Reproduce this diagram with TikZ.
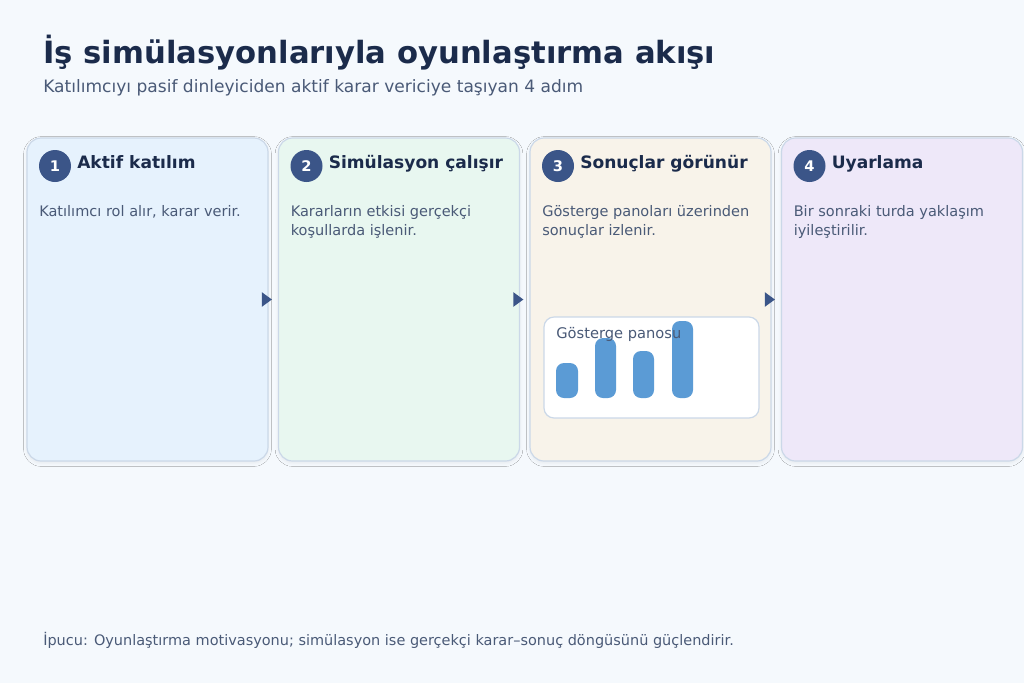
\documentclass[tikz,border=0pt]{standalone}
\usepackage{fontspec}
\setmainfont{DejaVu Sans}
\usetikzlibrary{arrows.meta,shadows.blur}
\definecolor{bgc}{HTML}{F5F9FD}
\definecolor{titlec}{HTML}{1B2B4B}
\definecolor{subc}{HTML}{4A5A77}
\definecolor{cardA}{HTML}{E6F2FD}
\definecolor{cardB}{HTML}{E8F7F0}
\definecolor{cardC}{HTML}{F8F3EA}
\definecolor{cardD}{HTML}{EEE8F9}
\definecolor{borderc}{HTML}{CBD8E8}
\definecolor{numc}{HTML}{3B5588}
\definecolor{barc}{HTML}{5B9BD5}
\tikzset{
  card/.style={draw=borderc, line width=0.9pt, rounded corners=10.5pt,
    minimum width=180.75pt, minimum height=242.25pt, inner sep=0pt,
    blur shadow={shadow xshift=0pt, shadow yshift=-1.5pt, shadow opacity=6, shadow blur radius=2.5pt}},
  numdot/.style={circle, fill=numc, text=white, minimum size=24pt, inner sep=0pt,
    font=\bfseries\fontsize{11}{13}\selectfont},
  cardtitle/.style={anchor=base west, inner sep=0pt, text=titlec,
    font=\bfseries\fontsize{12.8}{15}\selectfont},
  cardbody/.style={anchor=base west, inner sep=0pt, text=subc,
    font=\fontsize{10.9}{14.25}\selectfont},
  flow/.style={draw=numc, line width=1.5pt, -{Triangle[length=7.5pt,width=10.5pt]}}
}
% card: name, left x, fill, number, title, body
\newcommand{\stepcard}[6]{%
 \node[card, fill=#3] (#1) at ({#2+120.5},299.5) {};
 \node[numdot] (#1n) at ({#2+28},166) {#4};
 \node[cardtitle] (#1t) at ({#2+50},168) {#5};
 \node[cardbody] (#1b) at ({#2+12},216) {\parbox[t]{170pt}{\raggedright #6}};
}
\begin{document}
\begin{tikzpicture}[x=0.75pt,y=-0.75pt]
  \fill[bgc] (0,0) rectangle (1024,683);
  \useasboundingbox (0,0) rectangle (1024,683);
  \node[anchor=base west, inner sep=0pt, text=titlec, font=\bfseries\fontsize{23}{27}\selectfont]
    (title) at (43,63) {İş simülasyonlarıyla oyunlaştırma akışı};
  \node[anchor=base west, inner sep=0pt, text=subc, font=\fontsize{12.8}{15}\selectfont]
    (subtitle) at (43,92) {Katılımcıyı pasif dinleyiciden aktif karar vericiye taşıyan 4 adım};
  \stepcard{c1}{27}{cardA}{1}{Aktif katılım}{Katılımcı rol alır, karar verir.}
  \stepcard{c2}{278.5}{cardB}{2}{Simülasyon çalışır}{Kararların etkisi gerçekçi\\koşullarda işlenir.}
  \stepcard{c3}{530}{cardC}{3}{Sonuçlar görünür}{Gösterge panoları üzerinden\\sonuçlar izlenir.}
  \stepcard{c4}{781.5}{cardD}{4}{Uyarlama}{Bir sonraki turda yaklaşım\\iyileştirilir.}
  % dashboard
  \node[draw=borderc, fill=white, line width=0.9pt, rounded corners=7.5pt,
    minimum width=161.25pt, minimum height=75.75pt] (dash) at (651.5,367.5) {};
  \fill[barc, rounded corners=6pt] (556,363) rectangle (578,398);
  \fill[barc, rounded corners=6pt] (595,338) rectangle (616,398);
  \fill[barc, rounded corners=6pt] (633,351) rectangle (654,398);
  \fill[barc, rounded corners=6pt] (672,321) rectangle (693,398);
  \node[anchor=base west, inner sep=0pt, text=subc, font=\fontsize{11}{13}\selectfont]
    (dashlabel) at (556,338) {Gösterge panosu};
  % arrows between cards
  \draw[flow] ([xshift=-4.5pt]c1.east) -- ([xshift=-4.5pt]c2.west);
  \draw[flow] ([xshift=-4.5pt]c2.east) -- ([xshift=-4.5pt]c3.west);
  \draw[flow] ([xshift=-4.5pt]c3.east) -- ([xshift=-4.5pt]c4.west);
  \node[anchor=base west, inner sep=0pt, text=subc, font=\fontsize{10.85}{13}\selectfont]
    (tip) at (43,645) {İpucu: Oyunlaştırma motivasyonu; simülasyon ise gerçekçi karar–sonuç döngüsünü güçlendirir.};
\end{tikzpicture}
\end{document}
